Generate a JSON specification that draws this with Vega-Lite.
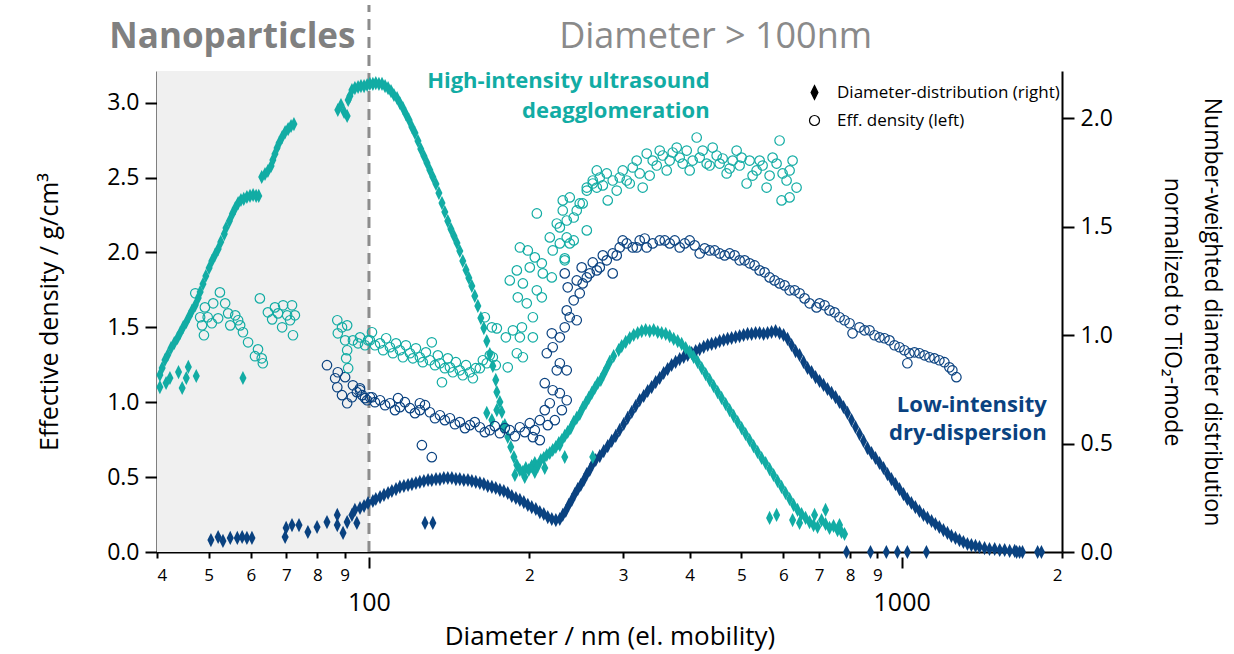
{
"$schema":"https://vega.github.io/schema/vega-lite/v6.json",
"width":905,"height":481,"autosize":"none",
"padding":{"left":157,"top":71,"right":172,"bottom":102},
"config":{"view":{"stroke":null},"font":"Open Sans","axis":{"grid":false,"domainColor":"black","tickColor":"black","labelColor":"black","titleColor":"black","labelFont":"Open Sans","titleFont":"Open Sans","labelFontSize":23,"titleFontSize":24,"titleFontWeight":"normal","domainWidth":2,"tickWidth":2}},
"datasets":{
"hiDist":[{"d":40.5,"v":0.816},{"d":40.5,"v":0.76},{"d":41.6,"v":0.779},{"d":42.3,"v":0.802},{"d":43.9,"v":0.829},{"d":44.6,"v":0.756},{"d":45.4,"v":0.802},{"d":45.8,"v":0.853},{"d":47.4,"v":0.811},{"d":58.0,"v":0.802},
{"d":40.9,"v":0.848},{"d":41.4,"v":0.885},{"d":41.9,"v":0.908},{"d":42.5,"v":0.94},{"d":43.1,"v":0.963},{"d":43.7,"v":0.986},{"d":44.2,"v":1.009},{"d":44.8,"v":1.037},{"d":45.4,"v":1.06},{"d":46.0,"v":1.088},{"d":46.5,"v":1.111},{"d":47.2,"v":1.138},{"d":47.8,"v":1.171},{"d":48.2,"v":1.198},{"d":48.8,"v":1.235},{"d":49.4,"v":1.272},{"d":50.1,"v":1.309},{"d":50.7,"v":1.341},{"d":51.4,"v":1.369},{"d":52.1,"v":1.396},{"d":52.7,"v":1.429},{"d":53.5,"v":1.465},{"d":53.9,"v":1.493},{"d":54.7,"v":1.525},{"d":55.4,"v":1.558},{"d":56.1,"v":1.585},{"d":56.8,"v":1.608},{"d":57.5,"v":1.622},{"d":58.2,"v":1.627},{"d":59.0,"v":1.636},{"d":59.8,"v":1.641},{"d":60.6,"v":1.645},{"d":61.4,"v":1.641},{"d":62.1,"v":1.641},{"d":62.9,"v":1.728},{"d":63.8,"v":1.742},{"d":64.6,"v":1.756},{"d":65.5,"v":1.779},{"d":66.0,"v":1.806},{"d":66.6,"v":1.834},{"d":67.2,"v":1.862},{"d":67.8,"v":1.885},{"d":68.7,"v":1.912},{"d":69.6,"v":1.935},{"d":70.5,"v":1.949},{"d":71.4,"v":1.963},{"d":72.3,"v":1.972},
{"d":87.4,"v":2.037},{"d":88.6,"v":2.06},{"d":89.8,"v":2.028},{"d":91.0,"v":2.009},{"d":91.4,"v":2.083},{"d":92.1,"v":2.101},{"d":92.9,"v":2.129},{"d":94.1,"v":2.138},{"d":95.4,"v":2.143},{"d":96.6,"v":2.147},{"d":97.9,"v":2.147},{"d":99.2,"v":2.152},{"d":100.4,"v":2.157},{"d":101.7,"v":2.157},{"d":103.0,"v":2.161},{"d":104.4,"v":2.157},{"d":105.8,"v":2.157},{"d":107.2,"v":2.147},{"d":108.6,"v":2.138},{"d":110.0,"v":2.124},{"d":111.4,"v":2.106},{"d":112.9,"v":2.092},{"d":114.3,"v":2.069},{"d":115.8,"v":2.046},{"d":117.3,"v":2.018},{"d":118.9,"v":1.991},{"d":120.4,"v":1.959},{"d":122.0,"v":1.931},{"d":123.6,"v":1.894},{"d":125.1,"v":1.857},{"d":126.8,"v":1.825},{"d":128.5,"v":1.793},{"d":130.1,"v":1.76},{"d":131.8,"v":1.728},{"d":133.6,"v":1.696},{"d":135.3,"v":1.654},{"d":137.1,"v":1.608},{"d":138.8,"v":1.567},{"d":140.6,"v":1.525},{"d":142.5,"v":1.488},{"d":144.4,"v":1.456},{"d":146.3,"v":1.424},{"d":148.1,"v":1.387},{"d":150.0,"v":1.341},{"d":152.1,"v":1.3},{"d":154.0,"v":1.263},{"d":156.0,"v":1.226},{"d":158.0,"v":1.18},{"d":160.1,"v":1.134},{"d":162.2,"v":1.078},{"d":164.3,"v":1.032},{"d":166.4,"v":0.972},{"d":168.6,"v":0.912},{"d":170.8,"v":0.857},{"d":173.0,"v":0.793},{"d":173.8,"v":0.737},{"d":176.1,"v":0.691},{"d":177.6,"v":0.645},{"d":179.9,"v":0.585},{"d":182.2,"v":0.53},{"d":184.6,"v":0.484},{"d":187.1,"v":0.438},{"d":189.5,"v":0.401},{"d":192.0,"v":0.378},{"d":194.5,"v":0.369},{"d":197.0,"v":0.387},{"d":199.5,"v":0.378},{"d":202.1,"v":0.396},{"d":204.8,"v":0.41},{"d":207.5,"v":0.396},{"d":210.2,"v":0.424},{"d":212.9,"v":0.433},{"d":215.7,"v":0.447},{"d":218.5,"v":0.456},{"d":221.3,"v":0.47},{"d":224.3,"v":0.484},{"d":227.2,"v":0.502},{"d":230.2,"v":0.516},{"d":233.1,"v":0.535},{"d":236.1,"v":0.553},{"d":239.2,"v":0.571},{"d":242.3,"v":0.599},{"d":245.5,"v":0.618},{"d":248.7,"v":0.636},{"d":251.9,"v":0.664},{"d":255.3,"v":0.687},{"d":258.6,"v":0.71},{"d":262.0,"v":0.733},{"d":265.4,"v":0.756},{"d":268.9,"v":0.779},{"d":272.4,"v":0.793},{"d":275.9,"v":0.82},{"d":279.5,"v":0.848},{"d":283.1,"v":0.876},{"d":288.0,"v":0.903},{"d":294.3,"v":0.931},{"d":298.2,"v":0.949},{"d":303.4,"v":0.968},{"d":308.7,"v":0.986},{"d":314.0,"v":1.0},{"d":319.5,"v":1.009},{"d":325.1,"v":1.018},{"d":330.7,"v":1.023},{"d":336.5,"v":1.018},{"d":342.4,"v":1.023},{"d":348.4,"v":1.014},{"d":354.4,"v":1.009},{"d":360.7,"v":1.005},{"d":366.9,"v":0.995},{"d":373.3,"v":0.982},{"d":379.8,"v":0.972},{"d":386.4,"v":0.959},{"d":393.2,"v":0.94},{"d":400.0,"v":0.922},{"d":406.9,"v":0.899},{"d":414.1,"v":0.876},{"d":421.3,"v":0.848},{"d":428.6,"v":0.82},{"d":436.1,"v":0.793},{"d":443.7,"v":0.765},{"d":451.4,"v":0.737},{"d":459.2,"v":0.71},{"d":467.3,"v":0.682},{"d":475.4,"v":0.654},{"d":483.7,"v":0.627},{"d":492.1,"v":0.599},{"d":500.7,"v":0.571},{"d":509.4,"v":0.544},{"d":518.3,"v":0.516},{"d":527.3,"v":0.488},{"d":536.5,"v":0.461},{"d":545.9,"v":0.433},{"d":555.4,"v":0.41},{"d":565.1,"v":0.382},{"d":574.9,"v":0.355},{"d":584.9,"v":0.327},{"d":595.1,"v":0.3},{"d":605.5,"v":0.272},{"d":616.1,"v":0.244},{"d":626.8,"v":0.217},{"d":637.7,"v":0.194},{"d":648.8,"v":0.175},{"d":660.1,"v":0.157},{"d":671.6,"v":0.138},{"d":683.3,"v":0.124},{"d":695.3,"v":0.115},{"d":707.4,"v":0.147},{"d":719.7,"v":0.129},{"d":732.2,"v":0.111},{"d":745.0,"v":0.12},{"d":757.9,"v":0.101},{"d":771.1,"v":0.092},{"d":781.2,"v":0.083},
{"d":166.4,"v":0.641},{"d":170.1,"v":0.608},{"d":173.8,"v":0.654},{"d":178.4,"v":0.576},{"d":233.1,"v":0.438},{"d":263.1,"v":0.438},{"d":228.2,"v":0.493},{"d":565.1,"v":0.157},{"d":582.4,"v":0.171},{"d":624.1,"v":0.147},{"d":643.2,"v":0.134},{"d":686.3,"v":0.171},{"d":719.7,"v":0.194},{"d":764.5,"v":0.124},{"d":187.9,"v":0.355},{"d":196.1,"v":0.346},{"d":204.8,"v":0.369},{"d":213.8,"v":0.387}],
"loDist":[{"d":50.5,"v":0.055},{"d":52.1,"v":0.069},{"d":53.2,"v":0.051},{"d":54.9,"v":0.065},{"d":56.6,"v":0.065},{"d":57.8,"v":0.069},{"d":59.0,"v":0.065},{"d":60.3,"v":0.065},{"d":69.6,"v":0.069},{"d":69.9,"v":0.111},{"d":71.7,"v":0.124},{"d":73.9,"v":0.124},{"d":76.8,"v":0.092},{"d":79.9,"v":0.115},{"d":83.4,"v":0.138},{"d":87.2,"v":0.124},{"d":87.2,"v":0.171},{"d":89.4,"v":0.088},{"d":91.0,"v":0.138},{"d":92.9,"v":0.171},{"d":94.1,"v":0.194},{"d":94.9,"v":0.134},{"d":96.2,"v":0.203},{"d":97.9,"v":0.212},{"d":99.6,"v":0.226},{"d":101.7,"v":0.235},{"d":103.0,"v":0.244},{"d":104.9,"v":0.253},{"d":106.7,"v":0.263},{"d":108.6,"v":0.272},{"d":110.4,"v":0.281},{"d":112.4,"v":0.29},{"d":114.3,"v":0.3},{"d":116.3,"v":0.304},{"d":118.4,"v":0.309},{"d":120.4,"v":0.313},{"d":122.5,"v":0.318},{"d":124.6,"v":0.323},{"d":126.8,"v":0.327},{"d":129.1,"v":0.332},{"d":131.2,"v":0.332},{"d":133.6,"v":0.336},{"d":135.9,"v":0.336},{"d":138.2,"v":0.341},{"d":140.6,"v":0.341},{"d":143.1,"v":0.341},{"d":145.6,"v":0.336},{"d":148.1,"v":0.336},{"d":150.7,"v":0.332},{"d":153.4,"v":0.332},{"d":156.0,"v":0.327},{"d":158.7,"v":0.323},{"d":161.5,"v":0.318},{"d":164.3,"v":0.313},{"d":167.1,"v":0.304},{"d":170.1,"v":0.3},{"d":173.0,"v":0.295},{"d":176.1,"v":0.286},{"d":179.1,"v":0.281},{"d":182.2,"v":0.272},{"d":185.4,"v":0.258},{"d":188.7,"v":0.249},{"d":192.0,"v":0.24},{"d":195.3,"v":0.23},{"d":198.7,"v":0.217},{"d":202.1,"v":0.207},{"d":205.7,"v":0.198},{"d":209.3,"v":0.184},{"d":212.9,"v":0.175},{"d":216.6,"v":0.161},{"d":220.4,"v":0.152},{"d":224.3,"v":0.147},{"d":228.2,"v":0.152},{"d":231.1,"v":0.171},{"d":234.1,"v":0.189},{"d":237.2,"v":0.217},{"d":240.3,"v":0.24},{"d":243.4,"v":0.267},{"d":246.6,"v":0.29},{"d":249.8,"v":0.309},{"d":253.1,"v":0.332},{"d":256.4,"v":0.359},{"d":259.7,"v":0.378},{"d":263.1,"v":0.406},{"d":266.5,"v":0.424},{"d":271.2,"v":0.442},{"d":275.9,"v":0.465},{"d":280.7,"v":0.488},{"d":285.6,"v":0.512},{"d":290.6,"v":0.535},{"d":295.6,"v":0.562},{"d":300.8,"v":0.59},{"d":306.0,"v":0.618},{"d":311.4,"v":0.645},{"d":316.8,"v":0.673},{"d":322.3,"v":0.7},{"d":327.9,"v":0.719},{"d":333.6,"v":0.742},{"d":339.4,"v":0.76},{"d":345.4,"v":0.783},{"d":351.4,"v":0.802},{"d":357.5,"v":0.825},{"d":363.7,"v":0.843},{"d":370.0,"v":0.862},{"d":376.4,"v":0.876},{"d":383.1,"v":0.889},{"d":389.8,"v":0.899},{"d":396.6,"v":0.908},{"d":403.5,"v":0.917},{"d":410.5,"v":0.926},{"d":417.7,"v":0.935},{"d":425.0,"v":0.945},{"d":432.4,"v":0.954},{"d":439.9,"v":0.959},{"d":447.5,"v":0.963},{"d":455.3,"v":0.972},{"d":463.3,"v":0.977},{"d":471.3,"v":0.982},{"d":479.5,"v":0.986},{"d":487.9,"v":0.991},{"d":496.4,"v":0.995},{"d":505.0,"v":1.0},{"d":513.8,"v":1.005},{"d":522.8,"v":1.005},{"d":531.9,"v":1.009},{"d":541.2,"v":1.009},{"d":550.6,"v":1.005},{"d":560.2,"v":1.009},{"d":569.9,"v":1.014},{"d":579.9,"v":1.018},{"d":590.0,"v":1.009},{"d":600.3,"v":1.0},{"d":610.8,"v":0.982},{"d":621.4,"v":0.954},{"d":632.2,"v":0.926},{"d":643.2,"v":0.908},{"d":654.5,"v":0.876},{"d":665.8,"v":0.848},{"d":677.4,"v":0.829},{"d":689.3,"v":0.806},{"d":701.3,"v":0.788},{"d":713.5,"v":0.77},{"d":725.9,"v":0.751},{"d":738.6,"v":0.733},{"d":751.4,"v":0.714},{"d":764.5,"v":0.691},{"d":777.8,"v":0.668},{"d":791.3,"v":0.641},{"d":805.2,"v":0.608},{"d":819.2,"v":0.576},{"d":833.5,"v":0.544},{"d":848.0,"v":0.512},{"d":862.7,"v":0.479},{"d":877.8,"v":0.456},{"d":893.1,"v":0.433},{"d":908.7,"v":0.41},{"d":924.5,"v":0.387},{"d":940.6,"v":0.359},{"d":956.9,"v":0.336},{"d":973.7,"v":0.313},{"d":990.7,"v":0.29},{"d":1008,"v":0.267},{"d":1025,"v":0.244},{"d":1043,"v":0.226},{"d":1061,"v":0.207},{"d":1080,"v":0.189},{"d":1099,"v":0.171},{"d":1118,"v":0.157},{"d":1138,"v":0.143},{"d":1157,"v":0.129},{"d":1177,"v":0.115},{"d":1198,"v":0.101},{"d":1219,"v":0.088},{"d":1240,"v":0.074},{"d":1262,"v":0.065},{"d":1284,"v":0.055},{"d":1306,"v":0.046},{"d":1329,"v":0.037},{"d":1352,"v":0.032},{"d":1376,"v":0.028},{"d":1400,"v":0.023},{"d":1431,"v":0.018},{"d":1462,"v":0.014},{"d":1495,"v":0.014},{"d":1528,"v":0.009},{"d":1561,"v":0.009},{"d":1595,"v":0.005},{"d":1630,"v":0.005},{"d":1665,"v":0},{"d":788,"v":0},{"d":874,"v":0},{"d":936,"v":0},{"d":982,"v":0},{"d":1025,"v":0},{"d":1113,"v":0},{"d":1644,"v":0},{"d":1686,"v":0},{"d":1800,"v":0},{"d":1830,"v":0},{"d":127.4,"v":0.134},{"d":131.8,"v":0.134}],
"hiDen":[{"d":47.2,"v":1.727},{"d":52.5,"v":1.733},{"d":49.2,"v":1.633},{"d":51.0,"v":1.66},{"d":53.7,"v":1.66},{"d":48.2,"v":1.567},{"d":49.8,"v":1.567},{"d":52.1,"v":1.56},{"d":54.4,"v":1.593},{"d":56.1,"v":1.58},{"d":56.8,"v":1.547},{"d":48.6,"v":1.513},{"d":50.7,"v":1.527},{"d":54.9,"v":1.513},{"d":57.3,"v":1.513},{"d":58.0,"v":1.467},{"d":49.0,"v":1.447},{"d":59.3,"v":1.4},{"d":61.9,"v":1.353},{"d":61.1,"v":1.307},{"d":62.9,"v":1.293},{"d":63.2,"v":1.26},{"d":62.4,"v":1.693},{"d":64.6,"v":1.6},{"d":66.6,"v":1.633},{"d":69.0,"v":1.647},{"d":71.7,"v":1.647},{"d":65.8,"v":1.553},{"d":68.7,"v":1.5},{"d":71.1,"v":1.547},{"d":72.0,"v":1.447},{"d":67.5,"v":1.593},{"d":70.2,"v":1.58},{"d":72.6,"v":1.58},{"d":87.2,"v":1.547},{"d":89.0,"v":1.5},{"d":91.0,"v":1.513},{"d":87.4,"v":1.46},{"d":90.2,"v":1.413},{"d":93.3,"v":1.413},{"d":95.4,"v":1.393},{"d":91.0,"v":1.347},{"d":90.6,"v":1.293},{"d":91.4,"v":1.227},{"d":99.6,"v":1.413},
{"d":96.2,"v":1.433},{"d":98.3,"v":1.38},{"d":100.4,"v":1.413},{"d":101.3,"v":1.467},{"d":102.6,"v":1.38},{"d":104.9,"v":1.393},{"d":106.3,"v":1.347},{"d":107.7,"v":1.427},{"d":109.5,"v":1.367},{"d":110.9,"v":1.327},{"d":112.4,"v":1.393},{"d":114.3,"v":1.347},{"d":115.8,"v":1.3},{"d":117.3,"v":1.38},{"d":119.4,"v":1.327},{"d":120.9,"v":1.293},{"d":122.5,"v":1.36},{"d":124.6,"v":1.3},{"d":126.2,"v":1.267},{"d":127.9,"v":1.333},{"d":130.1,"v":1.28},{"d":131.2,"v":1.4},{"d":133.0,"v":1.247},{"d":134.7,"v":1.313},{"d":137.1,"v":1.133},{"d":135.9,"v":1.26},{"d":138.8,"v":1.227},{"d":140.6,"v":1.293},{"d":141.9,"v":1.233},{"d":143.7,"v":1.2},{"d":145.6,"v":1.267},{"d":148.1,"v":1.213},{"d":150.0,"v":1.18},{"d":152.1,"v":1.247},{"d":154.7,"v":1.2},{"d":156.7,"v":1.16},{"d":158.7,"v":1.227},{"d":161.5,"v":1.227},{"d":163.6,"v":1.28},{"d":166.4,"v":1.26},{"d":168.6,"v":1.313},{"d":170.8,"v":1.3},{"d":173.0,"v":1.247},{"d":165.0,"v":1.567},{"d":170.1,"v":1.5},{"d":173.8,"v":1.493},{"d":180.7,"v":1.433},{"d":186.3,"v":1.48},{"d":192.0,"v":1.433},{"d":189.5,"v":1.327},{"d":182.2,"v":1.233},{"d":194.5,"v":1.3},{"d":203.1,"v":1.433},{"d":193.7,"v":1.5},{"d":183.8,"v":1.813},{"d":189.5,"v":1.88},{"d":194.5,"v":1.793},{"d":190.3,"v":1.7},{"d":197.8,"v":1.66},{"d":203.1,"v":1.567},{"d":211.1,"v":1.7},{"d":206.6,"v":1.747},{"d":192.0,"v":2.033},{"d":198.7,"v":2.013},{"d":204.8,"v":1.967},{"d":211.1,"v":1.927},{"d":200.4,"v":1.9},{"d":212.0,"v":1.86},{"d":220.4,"v":1.833},{"d":206.6,"v":2.26},{"d":218.5,"v":2.1},{"d":225.2,"v":2.193},{"d":231.1,"v":2.28},{"d":228.2,"v":2.06},{"d":235.1,"v":2.1},{"d":242.3,"v":2.233},{"d":248.7,"v":2.327},{"d":238.2,"v":2.367},{"d":256.4,"v":2.413},{"d":263.1,"v":2.46},{"d":267.7,"v":2.547},{"d":233.1,"v":1.947},{"d":221.3,"v":2.013},{"d":242.3,"v":2.08},{"d":256.4,"v":2.147},
{"d":231.1,"v":2.347},{"d":235.1,"v":2.213},{"d":245.5,"v":2.28},{"d":251.9,"v":2.327},{"d":256.4,"v":2.433},{"d":263.1,"v":2.48},{"d":267.7,"v":2.433},{"d":271.2,"v":2.5},{"d":279.5,"v":2.527},{"d":286.8,"v":2.48},{"d":295.6,"v":2.5},{"d":304.7,"v":2.48},{"d":312.7,"v":2.567},{"d":322.3,"v":2.527},{"d":326.5,"v":2.433},{"d":332.2,"v":2.66},{"d":340.9,"v":2.613},{"d":351.4,"v":2.68},{"d":366.9,"v":2.613},{"d":378.2,"v":2.7},{"d":388.1,"v":2.593},{"d":400.0,"v":2.547},{"d":412.3,"v":2.767},{"d":417.7,"v":2.633},{"d":430.5,"v":2.593},{"d":441.8,"v":2.7},{"d":455.3,"v":2.593},{"d":469.3,"v":2.527},{"d":481.6,"v":2.613},{"d":500.7,"v":2.633},{"d":511.6,"v":2.46},{"d":534.2,"v":2.547},{"d":541.2,"v":2.613},{"d":557.8,"v":2.433},{"d":572.4,"v":2.633},{"d":582.4,"v":2.593},{"d":590.0,"v":2.747},{"d":597.7,"v":2.527},{"d":616.1,"v":2.547},{"d":634.9,"v":2.433},{"d":616.1,"v":2.367},{"d":595.1,"v":2.347},{"d":238.2,"v":2.06},{"d":233.1,"v":1.96},{"d":280.7,"v":2.347},{"d":228.2,"v":2.167},
{"d":274.8,"v":2.447},{"d":291.8,"v":2.413},{"d":299.5,"v":2.547},{"d":308.7,"v":2.46},{"d":318.1,"v":2.613},{"d":336.5,"v":2.513},{"d":346.9,"v":2.58},{"d":356.0,"v":2.647},{"d":362.2,"v":2.547},{"d":371.7,"v":2.667},{"d":383.1,"v":2.633},{"d":394.9,"v":2.68},{"d":405.2,"v":2.613},{"d":423.1,"v":2.68},{"d":436.1,"v":2.58},{"d":449.5,"v":2.647},{"d":461.3,"v":2.627},{"d":475.4,"v":2.56},{"d":490.0,"v":2.68},{"d":496.4,"v":2.58},{"d":518.3,"v":2.613},{"d":525.0,"v":2.513},{"d":548.2,"v":2.58},{"d":565.1,"v":2.513},{"d":608.1,"v":2.48},{"d":624.1,"v":2.613}],
"loDen":[{"d":83.4,"v":1.247},{"d":87.4,"v":1.2},{"d":87.2,"v":1.1},{"d":89.0,"v":1.047},{"d":91.0,"v":0.993},{"d":92.9,"v":1.033},{"d":94.9,"v":1.067},{"d":97.1,"v":1.047},{"d":99.2,"v":1.013},{"d":86.4,"v":1.16},{"d":90.2,"v":1.167},{"d":93.3,"v":1.113},{"d":96.2,"v":1.093},{"d":101.3,"v":1.033},{"d":96.2,"v":1.08},{"d":98.3,"v":1.027},{"d":100.4,"v":1.033},{"d":102.6,"v":1.0},{"d":104.9,"v":1.013},{"d":107.2,"v":0.98},{"d":109.5,"v":0.993},{"d":111.9,"v":0.947},{"d":114.3,"v":0.967},{"d":116.8,"v":1.0},{"d":119.4,"v":0.96},{"d":122.0,"v":0.927},{"d":124.6,"v":0.947},{"d":127.4,"v":0.98},{"d":130.1,"v":0.933},{"d":133.0,"v":0.893},{"d":135.9,"v":0.913},{"d":138.8,"v":0.88},{"d":141.9,"v":0.893},{"d":145.0,"v":0.853},{"d":148.1,"v":0.867},{"d":151.4,"v":0.827},{"d":154.7,"v":0.847},{"d":158.0,"v":0.867},{"d":161.5,"v":0.833},{"d":165.0,"v":0.8},{"d":168.6,"v":0.813},{"d":172.3,"v":0.84},{"d":176.1,"v":0.793},{"d":179.9,"v":0.827},{"d":183.8,"v":0.813},{"d":187.9,"v":0.773},{"d":192.0,"v":0.833},{"d":196.1,"v":0.8},{"d":200.4,"v":0.86},{"d":204.8,"v":0.813},{"d":209.3,"v":0.88},{"d":113.4,"v":1.027},{"d":124.6,"v":0.993},{"d":125.7,"v":0.713},{"d":131.2,"v":0.633},{"d":203.1,"v":0.767},{"d":209.3,"v":0.747},{"d":213.8,"v":1.127},{"d":221.3,"v":1.08},{"d":228.2,"v":1.06},{"d":235.1,"v":1.013},{"d":218.5,"v":0.993},{"d":215.7,"v":1.327},{"d":221.3,"v":1.367},{"d":228.2,"v":1.26},{"d":225.2,"v":1.213},{"d":235.1,"v":1.213},{"d":228.2,"v":1.433},{"d":233.1,"v":1.5},{"d":238.2,"v":1.567},{"d":245.5,"v":1.547},{"d":235.1,"v":1.613},{"d":242.3,"v":1.68},{"d":236.1,"v":1.767},{"d":248.7,"v":1.727},{"d":245.5,"v":1.813},{"d":251.9,"v":1.793},{"d":259.7,"v":1.86},{"d":267.7,"v":1.88},{"d":250.8,"v":1.9},{"d":220.4,"v":1.46},{"d":233.1,"v":1.86},{"d":223.3,"v":0.88},{"d":216.6,"v":0.847},{"d":230.2,"v":0.947},{"d":213.8,"v":0.947},
{"d":271.2,"v":1.9},{"d":279.5,"v":1.947},{"d":286.8,"v":1.993},{"d":286.8,"v":1.86},{"d":295.6,"v":2.033},{"d":304.7,"v":2.06},{"d":312.7,"v":2.033},{"d":322.3,"v":2.08},{"d":332.2,"v":2.033},{"d":340.9,"v":2.06},{"d":351.4,"v":2.08},{"d":366.9,"v":2.06},{"d":383.1,"v":2.033},{"d":400.0,"v":2.08},{"d":417.7,"v":1.993},{"d":436.1,"v":2.013},{"d":455.3,"v":1.993},{"d":475.4,"v":1.993},{"d":496.4,"v":1.947},{"d":518.3,"v":1.927},{"d":541.2,"v":1.88},{"d":565.1,"v":1.833},{"d":590.0,"v":1.793},{"d":616.1,"v":1.747},{"d":643.2,"v":1.727},{"d":671.6,"v":1.66},{"d":692.2,"v":1.633},{"d":256.4,"v":1.833},{"d":263.1,"v":1.933},{"d":274.8,"v":1.98},{"d":291.8,"v":1.98},{"d":299.5,"v":2.08},{"d":318.1,"v":2.033},{"d":329.3,"v":2.093},{"d":359.1,"v":2.08},{"d":374.9,"v":2.08},{"d":391.5,"v":2.06},{"d":408.7,"v":2.047},{"d":426.8,"v":2.027},{"d":445.6,"v":2.013},{"d":465.3,"v":1.98},{"d":485.8,"v":1.98},{"d":507.2,"v":1.947},{"d":529.6,"v":1.913},{"d":553.0,"v":1.867},{"d":577.4,"v":1.813},{"d":602.9,"v":1.78},{"d":629.5,"v":1.747},{"d":657.3,"v":1.693},
{"d":701.3,"v":1.66},{"d":732.2,"v":1.613},{"d":764.5,"v":1.567},{"d":798.3,"v":1.527},{"d":833.5,"v":1.5},{"d":870.3,"v":1.48},{"d":908.7,"v":1.433},{"d":948.8,"v":1.413},{"d":990.7,"v":1.367},{"d":1034,"v":1.327},{"d":1080,"v":1.327},{"d":1128,"v":1.3},{"d":1177,"v":1.28},{"d":1229,"v":1.233},{"d":1267,"v":1.167},{"d":1025,"v":1.26},{"d":808.7,"v":1.46},{"d":716.6,"v":1.647},{"d":748.2,"v":1.6},{"d":781.2,"v":1.547},{"d":851.7,"v":1.48},{"d":889.3,"v":1.447},{"d":928.5,"v":1.427},{"d":969.5,"v":1.38},{"d":1012,"v":1.347},{"d":1057,"v":1.333},{"d":1104,"v":1.313},{"d":1152,"v":1.293},{"d":1203,"v":1.267},{"d":1245,"v":1.213}]
},
"layer":[
{"data":{"values":[{}]},"mark":{"type":"rect","color":"#f0f0f0"},
 "encoding":{"x":{"datum":40,"type":"quantitative","scale":{"type":"log","domain":[40,2000],"nice":false},"axis":null},"x2":{"datum":100}}},
{"data":{"values":[{}]},"mark":{"type":"rule","color":"#8c8c8c","strokeWidth":3,"strokeDash":[11,7]},
 "encoding":{"x":{"datum":100,"type":"quantitative","axis":null},"y":{"datum":0,"type":"quantitative","scale":{"domain":[0,3.211],"nice":false},"axis":null},"y2":{"datum":3.652}}},
{"data":{"values":[{}]},"mark":{"type":"text","text":"Nanoparticles","font":"Open Sans","fontSize":35,"fontWeight":"bold","color":"#808080","align":"center","baseline":"middle"},
 "encoding":{"x":{"datum":55.4,"type":"quantitative","axis":null},"y":{"datum":3.44,"type":"quantitative","scale":{"domain":[0,3.211],"nice":false},"axis":null}}},
{"data":{"values":[{}]},"mark":{"type":"text","text":"Diameter > 100nm","font":"Open Sans","fontSize":36,"color":"#8a8a8a","align":"center","baseline":"middle"},
 "encoding":{"x":{"datum":447.5,"type":"quantitative","axis":null},"y":{"datum":3.44,"type":"quantitative","scale":{"domain":[0,3.211],"nice":false},"axis":null}}},
{"data":{"values":[{}]},"mark":{"type":"text","text":["High-intensity ultrasound","deagglomeration"],"font":"Open Sans","fontSize":22,"fontWeight":"bold","color":"#12aca4","align":"right","baseline":"alphabetic","lineHeight":30},
 "encoding":{"x":{"datum":436.1,"type":"quantitative","axis":null},"y":{"datum":3.10,"type":"quantitative","scale":{"domain":[0,3.211],"nice":false},"axis":null}}},
{"data":{"values":[{}]},"mark":{"type":"text","text":["Low-intensity","dry-dispersion"],"font":"Open Sans","fontSize":22,"fontWeight":"bold","color":"#0a4280","align":"right","baseline":"alphabetic","lineHeight":28},
 "encoding":{"x":{"datum":1872,"type":"quantitative","axis":null},"y":{"datum":0.935,"type":"quantitative","scale":{"domain":[0,3.211],"nice":false},"axis":null}}},
{"data":{"name":"loDist"},"mark":{"type":"point","filled":true,"color":"#0a4280","opacity":1,"size":200,"strokeWidth":0},
 "encoding":{"x":{"field":"d","type":"quantitative","axis":null},
  "y":{"field":"v","type":"quantitative","scale":{"domain":[0,2.2166],"nice":false},"axis":null},
  "shape":{"datum":"Diameter-distribution (right)","type":"nominal","scale":{"domain":["Diameter-distribution (right)","Eff. density (left)"],"range":["M0,-1L0.5,0L0,1L-0.5,0Z","circle"]},
   "legend":{"title":null,"orient":"none","legendX":649,"legendY":13,"padding":0,"labelFont":"Open Sans","labelFontSize":17,"labelColor":"black","labelLimit":400,"labelOffset":14,"rowPadding":9,
    "encoding":{"symbols":{"fill":{"value":{"expr":"datum.value === 'Eff. density (left)' ? 'transparent' : 'black'"}},"stroke":{"value":"black"},"strokeWidth":{"value":1.2},"opacity":{"value":1},"size":{"value":{"expr":"datum.value === 'Eff. density (left)' ? 100 : 190"}}}}}}}},
{"data":{"name":"hiDist"},"mark":{"type":"point","filled":true,"color":"#12aca4","opacity":1,"size":200,"strokeWidth":0},
 "encoding":{"x":{"field":"d","type":"quantitative","axis":null},
  "y":{"field":"v","type":"quantitative","scale":{"domain":[0,2.2166],"nice":false},
   "axis":{"orient":"right","values":[0,0.5,1,1.5,2],"format":".1f","tickSize":12,"labelPadding":6,"title":["Number-weighted diameter distribution","normalized to TiO₂-mode"],"titleFontSize":23,"titleLineHeight":40,"titlePadding":47}},
  "shape":{"datum":"Diameter-distribution (right)","type":"nominal"}}},
{"data":{"name":"loDen"},"mark":{"type":"point","filled":false,"color":"#0a4280","opacity":1,"size":90,"strokeWidth":1.2},
 "encoding":{"x":{"field":"d","type":"quantitative",
   "axis":{"orient":"bottom","values":[40,50,60,70,80,90,200,300,400,500,600,700,800,900,2000],"labelExpr":"'' + (datum.value < 100 ? datum.value/10 : datum.value < 1000 ? datum.value/100 : datum.value/1000)","tickSize":6,"labelPadding":9,"labelFontSize":17,"title":null}},
  "y":{"field":"v","type":"quantitative","scale":{"domain":[0,3.211],"nice":false},
   "axis":{"orient":"left","values":[0,0.5,1,1.5,2,2.5,3],"format":".1f","tickSize":12,"labelPadding":6,"title":"Effective density / g/cm³","titleFontSize":25,"titlePadding":44}},
  "shape":{"datum":"Eff. density (left)","type":"nominal"}}},
{"data":{"name":"hiDen"},"mark":{"type":"point","filled":false,"color":"#12aca4","opacity":1,"size":90,"strokeWidth":1.2},
 "encoding":{"x":{"field":"d","type":"quantitative",
   "axis":{"orient":"bottom","values":[100,1000],"format":"d","domain":false,"offset":5,"tickSize":11,"labelPadding":22,"labelFontSize":25,"title":"Diameter / nm (el. mobility)","titleFontSize":26,"titlePadding":8}},
  "y":{"field":"v","type":"quantitative","scale":{"domain":[0,3.211],"nice":false},
   "axis":{"orient":"left","values":[0.1,0.2,0.3,0.4,0.6,0.7,0.8,0.9,1.1,1.2,1.3,1.4,1.6,1.7,1.8,1.9,2.1,2.2,2.3,2.4,2.6,2.7,2.8,2.9,3.1,3.2],"labels":false,"domain":false,"tickSize":-6,"title":null}},
  "shape":{"datum":"Eff. density (left)","type":"nominal"}}}
],
"resolve":{"scale":{"y":"independent"},"axis":{"x":"independent","y":"independent"}}
}
